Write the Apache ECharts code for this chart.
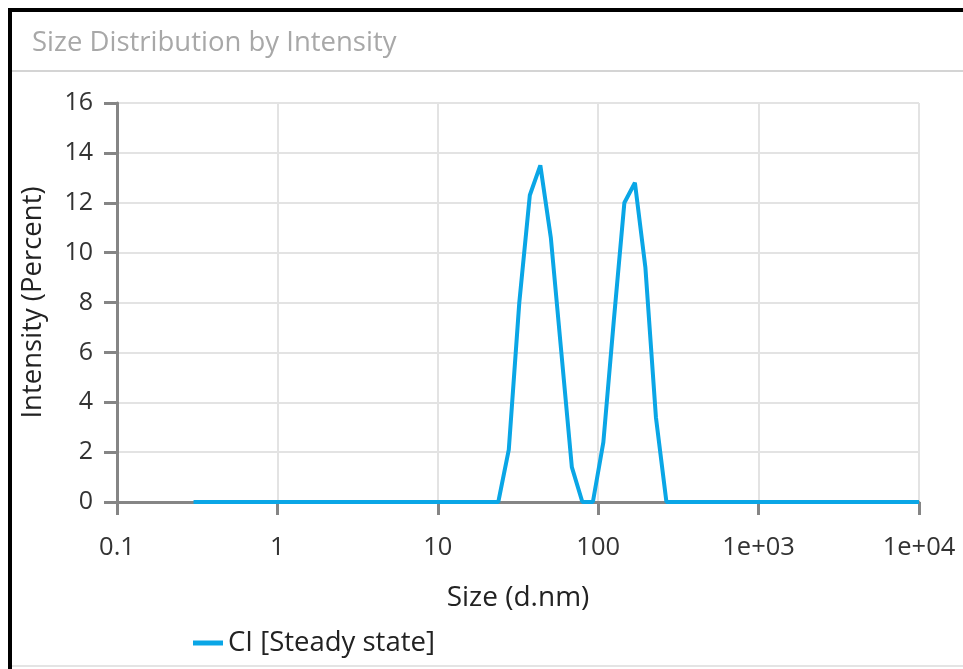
<!DOCTYPE html>
<html>
<head>
<meta charset="utf-8">
<script src="https://cdn.jsdelivr.net/npm/echarts@6/dist/echarts.min.js"></script>
<style>
  html, body { margin: 0; padding: 0; background: #fff; }
  #main { width: 963px; height: 669px; }
</style>
</head>
<body>
<div id="main"></div>
<script>
// size classes (d.nm), 70 log-spaced bins
var sizes = [
  0.3, 0.3488, 0.4056, 0.4717, 0.5485, 0.6378, 0.7417, 0.8624, 1.003, 1.166,
  1.356, 1.577, 1.834, 2.132, 2.479, 2.883, 3.353, 3.898, 4.533, 5.271,
  6.130, 7.128, 8.289, 9.638, 11.21, 13.03, 15.15, 17.62, 20.49, 23.83,
  27.71, 32.22, 37.47, 43.57, 50.66, 58.91, 68.50, 79.66, 92.63, 107.7,
  125.2, 145.6, 169.4, 196.9, 229.0, 266.3, 309.6, 360.1, 418.7, 486.9,
  566.1, 658.3, 765.5, 890.1, 1035, 1204, 1400, 1628, 1893, 2201,
  2559, 2976, 3460, 4024, 4679, 5441, 6326, 7357, 8554, 10000
];
// intensity (%) per class
var intensity = [
  0, 0, 0, 0, 0, 0, 0, 0, 0, 0,
  0, 0, 0, 0, 0, 0, 0, 0, 0, 0,
  0, 0, 0, 0, 0, 0, 0, 0, 0, 0,
  2.1, 8.0, 12.3, 13.5, 10.6, 6.0, 1.4, 0, 0, 2.4,
  7.3, 12.0, 12.8, 9.4, 3.4, 0, 0, 0, 0, 0,
  0, 0, 0, 0, 0, 0, 0, 0, 0, 0,
  0, 0, 0, 0, 0, 0, 0, 0, 0, 0
];
var xTickLabels = { '0.1': '0.1', '1': '1', '10': '10', '100': '100', '1000': '1e+03', '10000': '1e+04' };

var chartDom = document.getElementById('main');
var myChart = echarts.init(chartDom);
var font = '"Open Sans", sans-serif';
var option;

var points = sizes.map(function (s, i) { return [s, intensity[i]]; });

option = {
  animation: false,
  title: {
    text: 'Size Distribution by Intensity',
    left: 27,
    top: 24,
    textStyle: { fontFamily: font, fontSize: 27.5, fontWeight: 'normal', color: '#a8a8a8' }
  },
  graphic: [
    {
      type: 'rect',
      shape: { x: 10, y: 10, width: 1000, height: 700 },
      style: { fill: 'none', stroke: '#000', lineWidth: 4 },
      silent: true
    },
    {
      type: 'line',
      shape: { x1: 12, y1: 71, x2: 963, y2: 71 },
      style: { stroke: '#d4d4d4', lineWidth: 2 },
      silent: true
    },
    {
      type: 'line',
      shape: { x1: 12, y1: 666, x2: 963, y2: 666 },
      style: { stroke: '#e4e4e4', lineWidth: 2 },
      silent: true
    }
  ],
  legend: {
    left: 188,
    top: 624,
    icon: 'rect',
    itemWidth: 30,
    itemHeight: 5,
    itemGap: 8,
    textStyle: { fontFamily: font, fontSize: 27.5, color: '#222' },
    data: ['CI [Steady state]']
  },
  grid: {
    left: 117,
    right: 44,
    top: 103,
    bottom: 167,
    outerBoundsMode: 'none'
  },
  xAxis: {
    type: 'log',
    logBase: 10,
    min: 0.1,
    max: 10000,
    interval: 1,
    name: 'Size (d.nm)',
    nameLocation: 'middle',
    nameGap: 82,
    nameTextStyle: { fontFamily: font, fontSize: 28, color: '#222' },
    axisLine: { show: true, onZero: false, lineStyle: { color: '#858585', width: 3 } },
    axisTick: { show: true, length: 13, lineStyle: { color: '#858585', width: 3 } },
    axisLabel: {
      margin: 33,
      fontFamily: font,
      fontSize: 25.5,
      color: '#333',
      formatter: function (v) {
        var k = String(Math.round(v * 10) / 10);
        return xTickLabels[k] !== undefined ? xTickLabels[k] : '';
      }
    },
    splitLine: { show: true, lineStyle: { color: '#e3e3e3', width: 2 } }
  },
  yAxis: {
    type: 'value',
    min: 0,
    max: 16,
    interval: 2,
    name: 'Intensity (Percent)',
    nameLocation: 'middle',
    nameGap: 70,
    nameTextStyle: { fontFamily: font, fontSize: 27.5, color: '#222' },
    axisLine: { show: true, lineStyle: { color: '#858585', width: 3 } },
    axisTick: { show: true, length: 13, lineStyle: { color: '#858585', width: 3 } },
    axisLabel: { margin: 24, fontFamily: font, fontSize: 25, color: '#333' },
    splitLine: { show: true, lineStyle: { color: '#e3e3e3', width: 2 } }
  },
  series: [
    {
      name: 'CI [Steady state]',
      type: 'line',
      data: points,
      showSymbol: false,
      symbol: 'none',
      lineStyle: { color: '#0aa6e6', width: 4 },
      itemStyle: { color: '#0aa6e6' }
    }
  ]
};

option && myChart.setOption(option);
</script>
</body>
</html>
